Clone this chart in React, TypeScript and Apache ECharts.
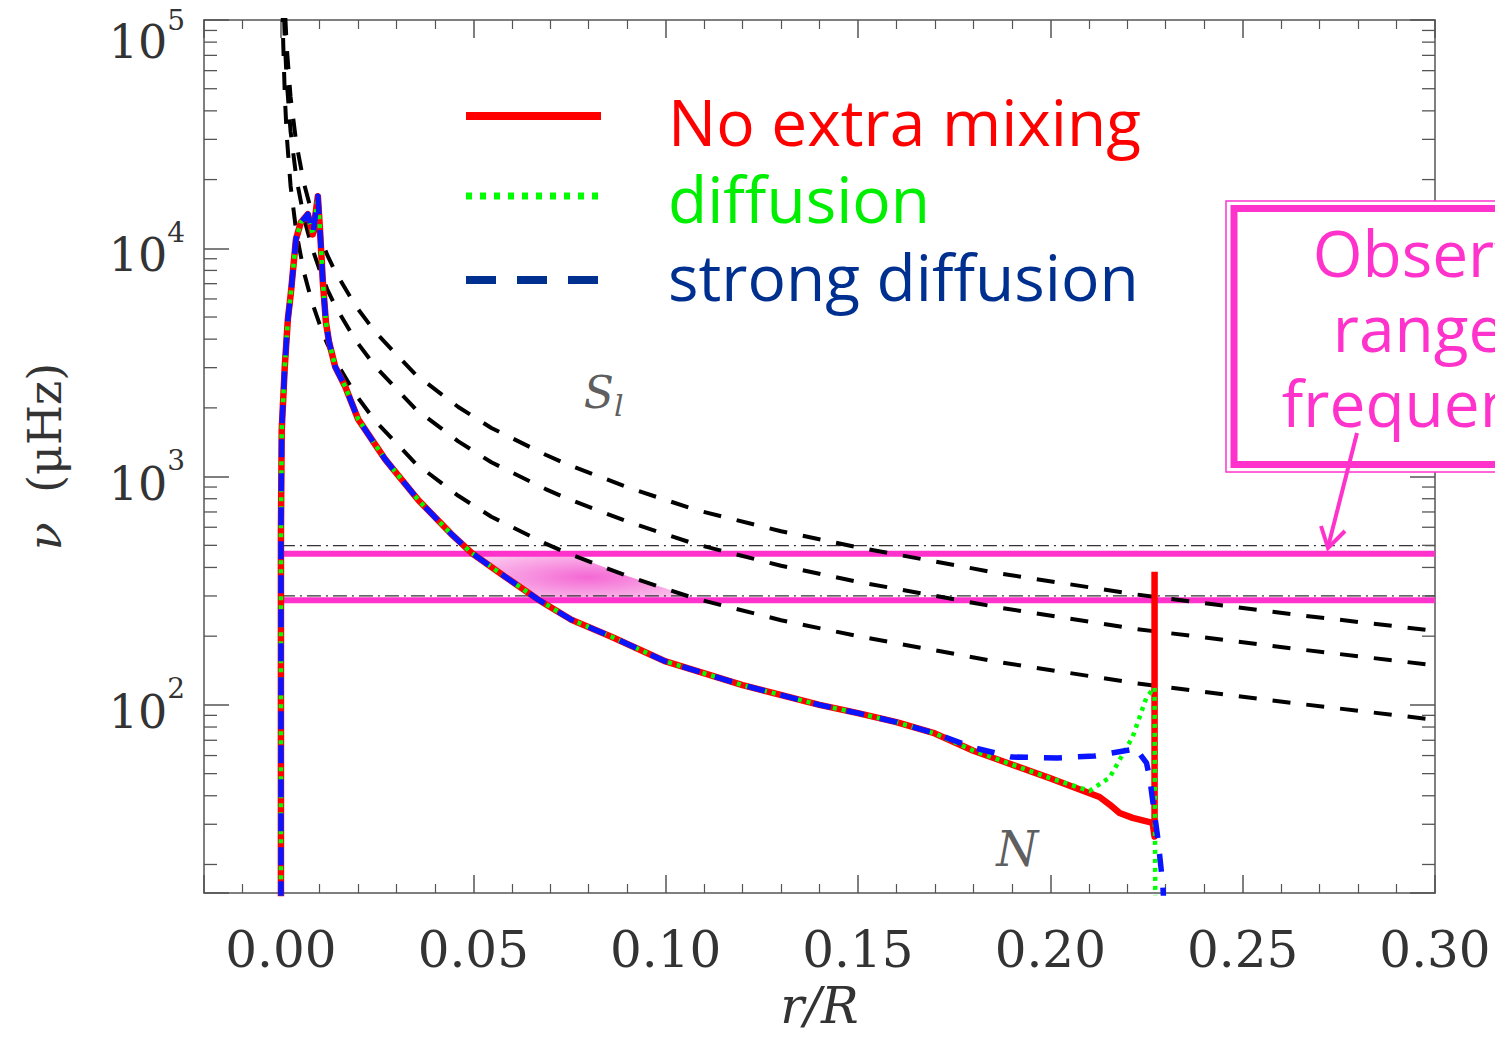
import React, { useEffect, useRef } from "react";
import * as echarts from "echarts";

// ---- Lamb frequencies S_l (l = 1, 2, 3) ----
const slR = [0.0004, 0.0006, 0.0010, 0.0015, 0.0025, 0.0040, 0.0060, 0.0080, 0.0100, 0.0120, 0.0141, 0.0193, 0.0245, 0.0349, 0.0461, 0.0547, 0.0688, 0.0742, 0.0900, 0.1078, 0.1300, 0.1500, 0.1867, 0.2214, 0.2650, 0.3000];
const s1 = [117500, 78300, 47000, 31300, 18800, 11750, 7830, 5860, 4680, 3830, 3230, 2300, 1755, 1146, 824, 667, 509, 464, 367, 292, 235, 200, 154, 125, 101, 86];
const s2 = [203500, 135600, 81400, 54200, 32600, 20350, 13560, 10150, 8100, 6630, 5590, 3980, 3040, 1985, 1427, 1155, 882, 804, 636, 506, 407, 346, 267, 216, 175, 149];
const s3 = [287800, 191800, 115100, 76700, 46000, 28800, 19200, 14350, 11460, 9380, 7910, 5630, 4300, 2807, 2018, 1633, 1247, 1136, 899, 715, 576, 490, 377, 306, 247, 211];

// ---- Buoyancy frequency N: common part of the three models ----
const nR = [0.0000, 0.0000, 0.0000, 0.0002, 0.0010, 0.0018, 0.0026, 0.0039, 0.0052, 0.0070, 0.0083, 0.0096, 0.0102, 0.0109, 0.0117, 0.0125, 0.0141, 0.0167, 0.0201, 0.0271, 0.0357, 0.0443, 0.0495, 0.0583, 0.0669, 0.0755, 0.0859, 0.1000, 0.1200, 0.1400, 0.1500, 0.1600, 0.1700];
const nV = [10, 100, 567, 1600, 3030, 4890, 6410, 10960, 13000, 14100, 11500, 16900, 11700, 7100, 4730, 3900, 3030, 2480, 1780, 1190, 790, 560, 464, 364, 289, 236, 199, 155, 122, 100, 92, 84, 75];

// tails that differ between models
const redTailR = [0.1800, 0.1867, 0.1997, 0.2128, 0.2155, 0.2180, 0.2214, 0.2266, 0.2271, 0.2271];
const redTailV = [63, 57.4, 47.9, 39.5, 36.5, 33.6, 32, 30.4, 26.5, 383];
const greenTailR = [0.1800, 0.1867, 0.1997, 0.2102, 0.2154, 0.2214, 0.2250, 0.2271, 0.2273];
const greenTailV = [63, 57.4, 47.9, 42, 48, 72.4, 108, 119, 10];
const blueTailR = [0.1800, 0.1900, 0.2018, 0.2115, 0.2206, 0.2219, 0.2250, 0.2258, 0.2266, 0.2279, 0.2292, 0.2297];
const blueTailV = [65, 59.1, 58.6, 59.7, 63.5, 65.5, 55.7, 48.3, 38.3, 26.4, 16.6, 12];

// observed range (magenta) and model range (dash-dot)
const obsRange = [459, 287];
const modelRange = [498, 300];
const rangeR = [0.0, 0.30];

// shaded overlap region
const shadeR = [0.0500, 0.0583, 0.0670, 0.1095, 0.0900, 0.0750];
const shadeV = [459, 364, 287, 287, 367, 459];

// axes
const xMin = -0.02;
const xMax = 0.30;
const yMin = 15;
const yMax = 100000;
const yMajorExps = [2, 3, 4, 5];
const yMinorTicks = [20, 30, 40, 50, 60, 70, 80, 90, 200, 300, 400, 500, 600, 700, 800, 900, 2000, 3000, 4000, 5000, 6000, 7000, 8000, 9000, 20000, 30000, 40000, 50000, 60000, 70000, 80000, 90000];

// annotations
const slLabelPos = [0.0839, 2265];
const nLabelPos = [0.1914, 23.4];

const legendNames = ["No extra mixing", "diffusion", "strong diffusion"];
const obsText = "Observed\nrange of\nfrequencies";

const zip = (a: number[], b: number[]) => a.map((v, i) => [v, b[i]]);

const AXIS_COLOR = "#555";
const TEXT_COLOR = "#333";
const SERIF = "DejaVu Serif";
const HAND = "Open Sans";
const MAGENTA = "#ff33cc";
const HAND_FONT = `64px "${HAND}"`;

export default function App() {
  const ref = useRef<HTMLDivElement>(null);
  useEffect(() => {
    if (!ref.current) return;
    const chart = echarts.init(ref.current, undefined, { renderer: "svg" });

    const xAxisBase = {
      type: "value",
      min: xMin,
      max: xMax,
      minInterval: 0.05,
      maxInterval: 0.05,
      axisLine: { show: true, onZero: false, lineStyle: { color: AXIS_COLOR, width: 1.5 } },
      axisTick: { show: true, inside: true, length: 18, lineStyle: { color: AXIS_COLOR, width: 1.5 } },
      minorTick: { show: true, splitNumber: 5, length: 9, lineStyle: { color: AXIS_COLOR, width: 1.2 } },
      splitLine: { show: false },
      minorSplitLine: { show: false },
    };
    const yAxisBase = {
      type: "log",
      logBase: 10,
      min: yMin,
      max: yMax,
      axisLine: { show: true, onZero: false, lineStyle: { color: AXIS_COLOR, width: 1.5 } },
      axisTick: { show: true, inside: true, length: 25, lineStyle: { color: AXIS_COLOR, width: 1.5 } },
      splitLine: { show: false },
    };

    const lineSeries = (name: string, data: number[][], color: string, width: number, type: any, z: number) => ({
      name,
      type: "line",
      data,
      showSymbol: false,
      symbol: "none",
      z,
      silent: true,
      lineStyle: { color, width, type, cap: "butt", join: "round" },
    });

    const option: any = {
      animation: false,
      grid: { left: 204, right: 60, top: 20, bottom: 148, containLabel: false, outerBoundsMode: "none" },
      xAxis: [
        {
          ...xAxisBase,
          position: "bottom",
          name: "r/R",
          nameLocation: "middle",
          nameGap: 88,
          nameTextStyle: { fontFamily: SERIF, fontStyle: "italic", fontSize: 50, color: TEXT_COLOR },
          axisLabel: {
            margin: 32,
            fontFamily: SERIF,
            fontSize: 50,
            color: TEXT_COLOR,
            formatter: (v: number) => (v < -1e-9 ? "" : v.toFixed(2)),
          },
        },
        { ...xAxisBase, position: "top", axisLabel: { show: false } },
      ],
      yAxis: [
        {
          ...yAxisBase,
          position: "left",
          name: "{i|ν}  (μHz)",
          nameLocation: "middle",
          nameGap: 136,
          nameRotate: 90,
          nameTextStyle: {
            fontFamily: SERIF,
            fontSize: 46,
            color: TEXT_COLOR,
            rich: { i: { fontFamily: SERIF, fontStyle: "italic", fontSize: 46, color: TEXT_COLOR } },
          },
          axisLabel: {
            margin: 19,
            formatter: (v: number) => {
              const e = Math.log10(v);
              const r = Math.round(e);
              if (Math.abs(e - r) > 1e-6 || yMajorExps.indexOf(r) < 0) return "";
              if (r === yMajorExps[yMajorExps.length - 1]) return `{bt|10}{st|${r}}`;
              return `{b|10}{s|${r}}`;
            },
            rich: {
              b: { fontFamily: SERIF, fontSize: 46, color: TEXT_COLOR, lineHeight: 60, verticalAlign: "bottom" },
              s: { fontFamily: SERIF, fontSize: 28, color: TEXT_COLOR, lineHeight: 28, verticalAlign: "top" },
              bt: { fontFamily: SERIF, fontSize: 46, color: TEXT_COLOR, lineHeight: 60, verticalAlign: "bottom" },
              st: { fontFamily: SERIF, fontSize: 28, color: TEXT_COLOR, lineHeight: 90, verticalAlign: "middle" },
            },
          },
        },
        { ...yAxisBase, position: "right", axisLabel: { show: false } },
      ],
      series: [
        {
          type: "custom",
          coordinateSystem: "cartesian2d",
          data: [[0.08, 350]],
          z: 1,
          silent: true,
          renderItem: (params: any, api: any) => {
            const pts = shadeR.map((r, i) => api.coord([r, shadeV[i]]));
            return {
              type: "polygon",
              shape: { points: pts },
              style: {
                fill: new echarts.graphic.RadialGradient(0.5, 0.5, 0.75, [
                  { offset: 0, color: "#f468d4" },
                  { offset: 1, color: "#fde0f5" },
                ]),
              },
            };
          },
        },
        lineSeries("model upper", zip(rangeR, [modelRange[0], modelRange[0]]), "#333", 1.3, [14, 5, 2, 5], 2),
        lineSeries("model lower", zip(rangeR, [modelRange[1], modelRange[1]]), "#333", 1.3, [14, 5, 2, 5], 2),
        lineSeries("obs upper", zip(rangeR, [obsRange[0], obsRange[0]]), MAGENTA, 6, "solid", 3),
        lineSeries("obs lower", zip(rangeR, [obsRange[1], obsRange[1]]), MAGENTA, 6, "solid", 3),
        lineSeries("S1", zip(slR, s1), "#000", 4, [18, 16], 4),
        lineSeries("S2", zip(slR, s2), "#000", 4, [18, 16], 4),
        lineSeries("S3", zip(slR, s3), "#000", 4, [18, 16], 4),
        lineSeries(legendNames[0], zip(nR.concat(redTailR), nV.concat(redTailV)), "#ff0000", 6.5, "solid", 5),
        lineSeries(legendNames[1], zip(nR.concat(greenTailR), nV.concat(greenTailV)), "#00ff00", 4.5, [4, 5], 6),
        lineSeries(legendNames[2], zip(nR.concat(blueTailR), nV.concat(blueTailV)), "#0a14ff", 5.5, [18, 16], 7),
        {
          type: "custom",
          coordinateSystem: "cartesian2d",
          data: yMinorTicks.map((v) => [xMin, v]),
          z: 8,
          silent: true,
          clip: false,
          renderItem: (params: any, api: any) => {
            const p = api.coord([api.value(0), api.value(1)]);
            const cs = params.coordSys;
            const st = { stroke: AXIS_COLOR, lineWidth: 1.3 };
            return {
              type: "group",
              children: [
                { type: "line", shape: { x1: cs.x, y1: p[1], x2: cs.x + 13, y2: p[1] }, style: st },
                { type: "line", shape: { x1: cs.x + cs.width - 13, y1: p[1], x2: cs.x + cs.width, y2: p[1] }, style: st },
              ],
            };
          },
        },
        {
          type: "scatter",
          data: [slLabelPos],
          symbolSize: 2,
          itemStyle: { color: "rgba(0,0,0,0)" },
          z: 9,
          silent: true,
          label: {
            show: true,
            position: "inside",
            formatter: "{s|S}{l|l}",
            rich: {
              s: { fontFamily: SERIF, fontStyle: "italic", fontSize: 44, color: TEXT_COLOR, lineHeight: 50, verticalAlign: "top" },
              l: { fontFamily: SERIF, fontStyle: "italic", fontSize: 30, color: TEXT_COLOR, lineHeight: 30, verticalAlign: "bottom" },
            },
          },
        },
        {
          type: "scatter",
          data: [nLabelPos],
          symbolSize: 2,
          itemStyle: { color: "rgba(0,0,0,0)" },
          z: 9,
          silent: true,
          label: {
            show: true,
            position: "inside",
            formatter: "N",
            fontFamily: SERIF,
            fontStyle: "italic",
            fontSize: 48,
            color: TEXT_COLOR,
          },
        },
      ],
      graphic: [
        // legend
        { type: "line", shape: { x1: 466, y1: 116, x2: 601, y2: 116 }, style: { stroke: "#ff0000", lineWidth: 8 } },
        { type: "line", shape: { x1: 466, y1: 196, x2: 601, y2: 196 }, style: { stroke: "#00ff00", lineWidth: 7, lineDash: [6, 8] } },
        { type: "line", shape: { x1: 466, y1: 280, x2: 601, y2: 280 }, style: { stroke: "#00308f", lineWidth: 8, lineDash: [30, 21] } },
        { type: "text", x: 668, y: 121, style: { text: legendNames[0], fill: "#ff0000", font: HAND_FONT, verticalAlign: "middle", lineHeight: 66 } },
        { type: "text", x: 668, y: 198, style: { text: legendNames[1], fill: "#00ee00", font: HAND_FONT, verticalAlign: "middle", lineHeight: 66 } },
        { type: "text", x: 668, y: 276, style: { text: legendNames[2], fill: "#00308f", font: HAND_FONT, verticalAlign: "middle", lineHeight: 66 } },
        // observed range box
        { type: "rect", shape: { x: 1226, y: 201, width: 400, height: 271 }, style: { fill: "#fff", stroke: MAGENTA, lineWidth: 1.5 }, z: 20 },
        { type: "rect", shape: { x: 1234, y: 208.5, width: 400, height: 256 }, style: { fill: "none", stroke: MAGENTA, lineWidth: 7 }, z: 21 },
        {
          type: "text",
          x: 1457,
          y: 215,
          z: 22,
          style: { text: obsText, fill: MAGENTA, font: HAND_FONT, align: "center", verticalAlign: "top", lineHeight: 75 },
        },
        // arrow
        { type: "polyline", shape: { points: [[1357, 433], [1328, 547]] }, style: { stroke: MAGENTA, lineWidth: 4, fill: "none" }, z: 22 },
        { type: "polyline", shape: { points: [[1321, 526], [1328, 548], [1345, 531]] }, style: { stroke: MAGENTA, lineWidth: 4, fill: "none" }, z: 22 },
      ],
    };

    chart.setOption(option);
    return () => chart.dispose();
  }, []);

  return <div ref={ref} style={{ position: "absolute", left: 0, top: 0, width: 1495, height: 1041 }} />;
}
